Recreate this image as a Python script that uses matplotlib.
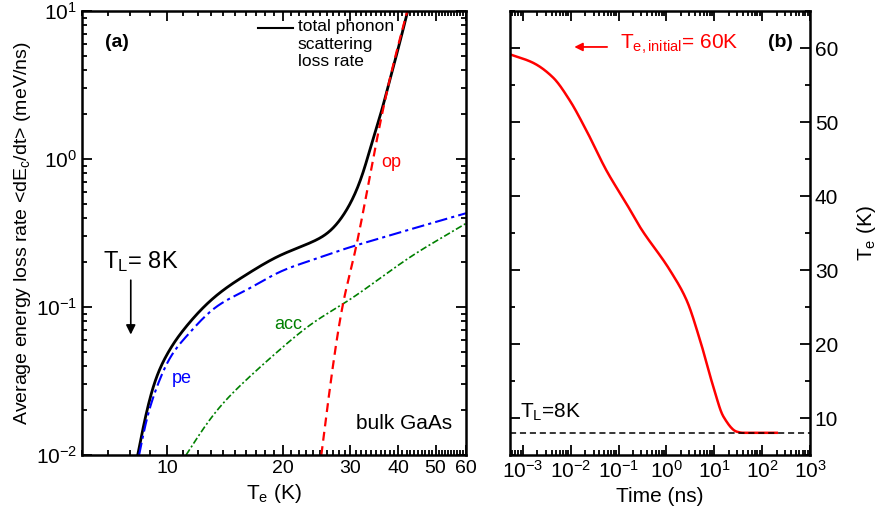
import numpy as np
import matplotlib.pyplot as plt
from matplotlib.ticker import LogLocator, FixedLocator, FixedFormatter, NullFormatter, MultipleLocator

plt.rcParams['font.family'] = ['Liberation Sans', 'DejaVu Sans']
plt.rcParams['mathtext.fontset'] = 'custom'
plt.rcParams['mathtext.rm'] = 'Liberation Sans'
plt.rcParams['mathtext.it'] = 'Liberation Sans'

# panel (a): loss rate vs electron temperature
total_T = [8.38, 8.71, 9.15, 9.92, 11.2, 13.1, 16.05, 19.6, 23.9, 26.4, 29.3, 32.3, 34.3, 36.4, 38.0, 40.3, 42.3]
total_rate = [0.01, 0.0164, 0.0275, 0.0462, 0.0736, 0.113, 0.165, 0.222, 0.276, 0.323, 0.452, 0.80, 1.34, 2.25, 3.42, 6.08, 10.0]

pe_T = [8.45, 8.8, 9.34, 10.1, 11.2, 13.1, 16.05, 19.6, 23.9, 29.3, 35.8, 43.7, 60.0]
pe_rate = [0.01, 0.0164, 0.0275, 0.0438, 0.063, 0.0954, 0.130, 0.172, 0.208, 0.249, 0.291, 0.339, 0.43]

acc_T = [11.2, 13.1, 16.05, 19.6, 23.9, 29.3, 35.8, 43.7, 53.3, 60.0]
acc_rate = [0.01, 0.0182, 0.0321, 0.0512, 0.0776, 0.1086, 0.156, 0.224, 0.306, 0.367]

op_T = [25.2, 28.7, 30.5, 33.7, 36.6, 42.2]
op_rate = [0.01, 0.105, 0.208, 0.76, 2.25, 10.0]

# panel (b): electron temperature vs time
time_ns = [5.35e-4, 1.64e-3, 4.3e-3, 9.6e-3, 0.0215, 0.0564, 0.148, 0.281, 1.19, 2.65, 5.05, 9.58, 15.5, 29.6, 40.0, 203.0]
Te = [59.15, 58.0, 56.0, 52.9, 48.8, 43.4, 38.9, 35.8, 29.95, 25.9, 20.5, 14.2, 10.2, 8.15, 8.0, 8.0]
T_lattice = 8


def hermite(x, y, m, xs):
	h = np.diff(x)
	i = np.clip(np.searchsorted(x, xs) - 1, 0, len(x) - 2)
	t = (xs - x[i]) / h[i]
	h00 = 2 * t**3 - 3 * t**2 + 1
	h10 = t**3 - 2 * t**2 + t
	h01 = -2 * t**3 + 3 * t**2
	h11 = t**3 - t**2
	return h00 * y[i] + h10 * h[i] * m[i] + h01 * y[i + 1] + h11 * h[i] * m[i + 1]


def pchip(x, y, xs):
	x = np.asarray(x, float)
	y = np.asarray(y, float)
	h = np.diff(x)
	d = np.diff(y) / h
	m = np.zeros_like(y)
	m[0], m[-1] = d[0], d[-1]
	for k in range(1, len(x) - 1):
		if d[k - 1] * d[k] > 0:
			w1 = 2 * h[k] + h[k - 1]
			w2 = h[k] + 2 * h[k - 1]
			m[k] = (w1 + w2) / (w1 / d[k - 1] + w2 / d[k])
	return hermite(x, y, m, xs)


def natural_spline(x, y, xs):
	x = np.asarray(x, float)
	y = np.asarray(y, float)
	n = len(x)
	h = np.diff(x)
	A = np.zeros((n, n))
	b = np.zeros(n)
	A[0, 0] = A[-1, -1] = 1
	for k in range(1, n - 1):
		A[k, k - 1] = h[k - 1]
		A[k, k] = 2 * (h[k - 1] + h[k])
		A[k, k + 1] = h[k]
		b[k] = 6 * ((y[k + 1] - y[k]) / h[k] - (y[k] - y[k - 1]) / h[k - 1])
	M = np.linalg.solve(A, b)
	i = np.clip(np.searchsorted(x, xs) - 1, 0, n - 2)
	t0 = x[i + 1] - xs
	t1 = xs - x[i]
	return (M[i] * t0**3 + M[i + 1] * t1**3) / (6 * h[i]) + (y[i] / h[i] - M[i] * h[i] / 6) * t0 \
		+ (y[i + 1] / h[i] - M[i + 1] * h[i] / 6) * t1


def smooth_log(x, y, logy=True, interp=natural_spline, n=400):
	lx = np.log10(x)
	xs = np.linspace(lx[0], lx[-1], n)
	if logy:
		ys = 10 ** interp(lx, np.log10(y), xs)
	else:
		ys = interp(lx, y, xs)
	return 10 ** xs, ys


fig = plt.figure(figsize=(8.77, 5.15), dpi=100)
ax1 = fig.add_axes([82 / 877, 1 - 455 / 515, 384 / 877, 444 / 515])
ax2 = fig.add_axes([510 / 877, 1 - 455 / 515, 300 / 877, 444 / 515])

for ax in (ax1, ax2):
	for s in ax.spines.values():
		s.set_linewidth(1.8)
	ax.tick_params(which='both', direction='in', top=True, right=True, labelsize=15, width=1.3)
	ax.tick_params(which='major', length=7)
	ax.tick_params(which='minor', length=3.5)
ax1.tick_params(axis='x', labelsize=14)

x, y = smooth_log(total_T, total_rate)
ax1.plot(x, y, color='black', lw=2)
x, y = smooth_log(pe_T, pe_rate)
ax1.plot(x, y, color='blue', lw=1.5, dashes=(6, 2, 1.5, 2))
x, y = smooth_log(acc_T, acc_rate)
ax1.plot(x, y, color='green', lw=1.2, dashes=(4, 1.5, 1.2, 1.5))
x, y = smooth_log(op_T, op_rate)
ax1.plot(x, y, color='red', lw=1.6, dashes=(4, 2.5))

ax1.set_xscale('log')
ax1.set_yscale('log')
ax1.set_xlim(6, 60)
ax1.set_ylim(1e-2, 10)
ax1.xaxis.set_major_locator(FixedLocator([10, 20, 30, 40, 50, 60]))
ax1.xaxis.set_major_formatter(FixedFormatter(['10', '20', '30', '40', '50', '60']))
ax1.xaxis.set_minor_locator(FixedLocator([v for v in range(6, 61) if v % 10 != 0]))
ax1.xaxis.set_minor_formatter(NullFormatter())
ax1.yaxis.set_major_locator(LogLocator(base=10, numticks=10))
ax1.yaxis.set_minor_locator(LogLocator(base=10, subs=np.arange(2, 10), numticks=10))
ax1.yaxis.set_minor_formatter(NullFormatter())
ax1.set_xlabel('T$_\\mathregular{e}$ (K)', fontsize=15, labelpad=4)
ax1.set_ylabel('Average energy loss rate <dE$_\\mathregular{c}$/dt> (meV/ns)', fontsize=14, labelpad=2)

ax1.text(0.06, 0.93, '(a)', transform=ax1.transAxes, fontsize=14, fontweight='bold', va='center')
ax1.plot([0.458, 0.549], [0.962, 0.962], transform=ax1.transAxes, color='black', lw=1.5)
ax1.text(0.562, 0.982, 'total phonon\nscattering\nloss rate', transform=ax1.transAxes,
	fontsize=12.5, va='top', linespacing=1.22)
ax1.text(0.78, 0.658, 'op', transform=ax1.transAxes, color='red', fontsize=13, va='center')
ax1.text(0.234, 0.173, 'pe', transform=ax1.transAxes, color='blue', fontsize=13, va='center')
ax1.text(0.5, 0.295, 'acc', transform=ax1.transAxes, color='green', fontsize=13, va='center')
ax1.text(0.965, 0.07, 'bulk GaAs', transform=ax1.transAxes, fontsize=15, ha='right', va='center')
ax1.text(0.055, 0.435, 'T$_\\mathregular{L}$= 8K', transform=ax1.transAxes, fontsize=17, va='center')
ax1.annotate('', xy=(0.127, 0.265), xytext=(0.127, 0.40), xycoords='axes fraction',
	arrowprops=dict(arrowstyle='-|>', color='black', lw=1.2, mutation_scale=14))

x, y = smooth_log(time_ns, Te, logy=False, interp=pchip)
ax2.plot(x, y, color='red', lw=1.8)
ax2.axhline(T_lattice, color='black', lw=1.1, ls=(0, (4, 2.5)))
ax2.set_xscale('log')
ax2.set_xlim(5.4e-4, 1e3)
ax2.set_ylim(5, 65)
ax2.xaxis.set_major_locator(LogLocator(base=10, numticks=12))
ax2.xaxis.set_minor_locator(LogLocator(base=10, subs=np.arange(2, 10), numticks=12))
ax2.xaxis.set_minor_formatter(NullFormatter())
ax2.yaxis.set_major_locator(MultipleLocator(10))
ax2.yaxis.set_minor_locator(MultipleLocator(5))
ax2.yaxis.tick_right()
ax2.tick_params(which='both', left=True, right=True)
ax2.yaxis.set_label_position('right')
ax2.set_xlabel('Time (ns)', fontsize=15, labelpad=4)
ax2.set_ylabel('T$_\\mathregular{e}$ (K)', fontsize=15, labelpad=12)

ax2.text(0.9, 0.93, '(b)', transform=ax2.transAxes, fontsize=14, fontweight='bold', va='center', ha='center')
ax2.text(0.367, 0.925, 'T$_\\mathregular{e,initial}$= 60K', transform=ax2.transAxes, color='red',
	fontsize=15, va='center')
ax2.annotate('', xy=(0.205, 0.919), xytext=(0.333, 0.919), xycoords='axes fraction',
	arrowprops=dict(arrowstyle='-|>', color='red', lw=1.3, mutation_scale=12))
ax2.text(0.035, 0.095, 'T$_\\mathregular{L}$=8K', transform=ax2.transAxes, fontsize=15, va='center')

fig.savefig('out.png', dpi=100)
